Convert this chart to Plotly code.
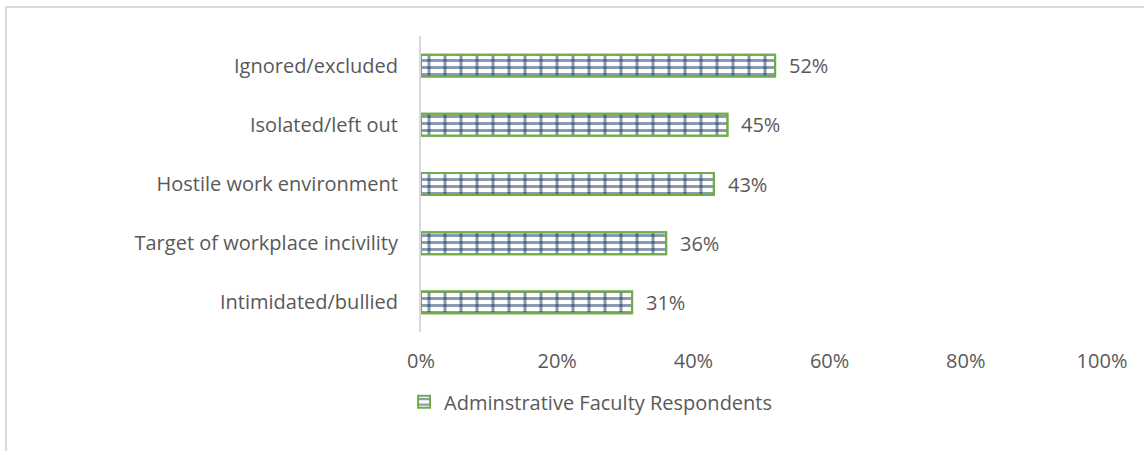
import plotly.graph_objects as go

# Share of administrative faculty respondents reporting each experience
categories = [
    "Ignored/excluded",
    "Isolated/left out",
    "Hostile work environment",
    "Target of workplace incivility",
    "Intimidated/bullied",
]
values = [52, 45, 43, 36, 31]
series_name = "Adminstrative Faculty Respondents"
tick_values = [0, 20, 40, 60, 80, 100]
tick_labels = ["0%", "20%", "40%", "60%", "80%", "100%"]

NAVY = "#123460"
GREEN = "#70AD47"
TEXT = "#595959"
GRID = "#D9D9D9"
FONT = "Open Sans, Lato, sans-serif"

fig = go.Figure()
# brick-like fill: horizontal courses on the base bar ...
fig.add_trace(go.Bar(
    x=values,
    y=categories,
    orientation="h",
    name=series_name,
    showlegend=True,
    marker=dict(
        color="white",
        line=dict(color=GREEN, width=2),
        pattern=dict(shape="-", fgcolor=NAVY, bgcolor="white", size=7, solidity=0.42),
    ),
))
# ... with wider vertical joints laid over the same bars
fig.add_trace(go.Bar(
    x=values,
    y=categories,
    orientation="h",
    name=series_name,
    showlegend=False,
    hoverinfo="skip",
    marker=dict(
        color="rgba(0,0,0,0)",
        line=dict(color=GREEN, width=2),
        pattern=dict(shape="|", fgcolor=NAVY, bgcolor="rgba(0,0,0,0)", size=16, solidity=0.19),
    ),
))

# value labels to the right of each bar
for cat, v in zip(categories, values):
    fig.add_annotation(
        x=v, y=cat, xref="x", yref="y",
        text=f"{v}%", showarrow=False,
        xanchor="left", xshift=12,
        font=dict(family=FONT, size=20, color=TEXT),
    )

# light outer frame of the chart area
fig.add_shape(
    type="rect", xref="paper", yref="paper",
    x0=-0.6094, x1=2.0, y0=-1.0, y1=1.098,
    line=dict(color=GRID, width=2), fillcolor="rgba(0,0,0,0)", layer="below",
)

fig.update_layout(
    width=1144,
    height=451,
    margin=dict(l=421, r=42, t=36, b=119),
    paper_bgcolor="white",
    plot_bgcolor="white",
    barmode="overlay",
    bargap=0.63,
    font=dict(family=FONT, size=20, color=TEXT),
    xaxis=dict(
        range=[0, 100],
        tickvals=tick_values,
        ticktext=tick_labels,
        showgrid=False,
        zeroline=False,
        showline=False,
        ticks="",
        ticklabelstandoff=15,
        tickfont=dict(family=FONT, size=20, color=TEXT),
        fixedrange=True,
    ),
    yaxis=dict(
        categoryorder="array",
        categoryarray=categories[::-1],
        showgrid=False,
        zeroline=False,
        showline=True,
        linecolor=GRID,
        linewidth=2,
        ticks="",
        ticklabelstandoff=17,
        tickfont=dict(family=FONT, size=20, color=TEXT),
        fixedrange=True,
    ),
    legend=dict(
        orientation="h",
        x=0.249, xanchor="center",
        y=-0.236, yanchor="middle",
        font=dict(family=FONT, size=20, color=TEXT),
        itemwidth=30,
    ),
)

fig.write_html("out.html")
